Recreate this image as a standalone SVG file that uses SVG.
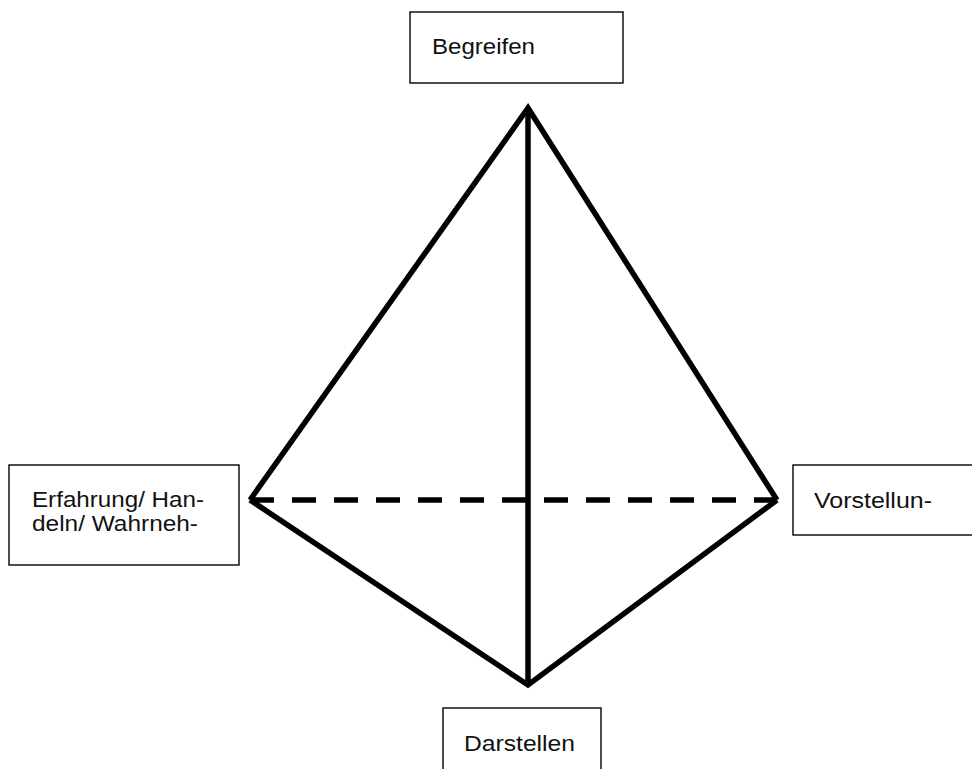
<svg xmlns="http://www.w3.org/2000/svg" width="972" height="769" viewBox="0 0 972 769">
<style>
.box{fill:#fff;stroke:#000;stroke-width:1.4}
.t{font-family:"Liberation Sans","DejaVu Sans",sans-serif;font-size:22px;fill:#111}
.edge{stroke:#000;stroke-width:5.5;fill:none;stroke-linejoin:miter;stroke-linecap:butt}
</style>
<rect width="972" height="769" fill="#fff"/>
<g id="connectors">
<polyline class="edge" points="250,500 528,108 777,500"/>
<polyline class="edge" points="250,500 528,685 777,500"/>
<line class="edge" x1="528" y1="108" x2="528" y2="685"/>
<line class="edge" x1="250" y1="500" x2="777" y2="500" stroke-dasharray="24 18"/>
</g>
<g id="begreifen">
<rect class="box" x="410" y="12" width="213" height="71"/>
<text class="t" x="432" y="54" textLength="103" lengthAdjust="spacingAndGlyphs">Begreifen</text>
</g>
<g id="erfahrung">
<rect class="box" x="9" y="465" width="230" height="100"/>
<text class="t" x="32" y="507" textLength="172" lengthAdjust="spacingAndGlyphs">Erfahrung/ Han-</text>
<text class="t" x="32" y="531" textLength="166" lengthAdjust="spacingAndGlyphs">deln/ Wahrneh-</text>
</g>
<g id="vorstellung">
<rect class="box" x="793" y="465" width="185" height="70"/>
<text class="t" x="814" y="508" textLength="118" lengthAdjust="spacingAndGlyphs">Vorstellun-</text>
</g>
<g id="darstellen">
<rect class="box" x="443" y="708" width="158" height="70"/>
<text class="t" x="464" y="751" textLength="111" lengthAdjust="spacingAndGlyphs">Darstellen</text>
</g>
</svg>
